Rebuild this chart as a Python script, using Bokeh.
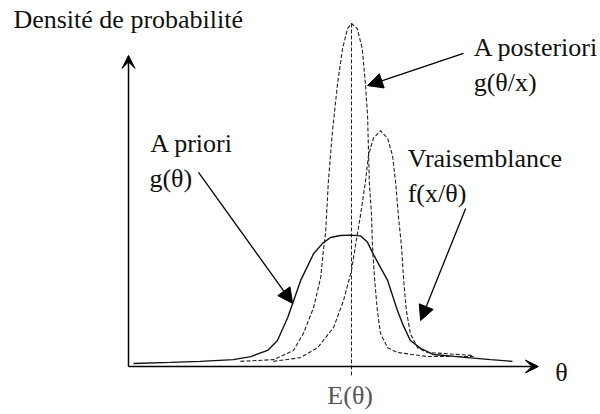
from bokeh.plotting import figure
from bokeh.models import Range1d, Arrow, NormalHead, VeeHead
from bokeh.core.properties import value
from bokeh.embed import file_html
from bokeh.resources import INLINE

# ---- data (theta units, density units) ----
prior_theta = [0.11, 0.94, 1.61, 2.35, 2.74, 3.12, 3.34, 3.57, 3.68, 3.86, 4.15, 4.35,
               4.53, 4.75, 4.98, 5.20, 5.36, 5.49, 5.81, 6.03, 6.17, 6.32, 6.55, 6.84,
               7.60, 8.12, 8.61]
prior_density = [0.09, 0.12, 0.15, 0.20, 0.29, 0.47, 0.76, 1.43, 1.84, 2.51, 3.29, 3.59,
                 3.76, 3.82, 3.83, 3.81, 3.62, 3.27, 2.51, 1.63, 1.17, 0.76, 0.53, 0.35,
                 0.26, 0.20, 0.15]

likelihood_theta = [3.25, 3.86, 4.24, 4.60, 4.82, 5.00, 5.09, 5.20, 5.31, 5.38, 5.49,
                    5.65, 5.81, 5.92, 5.99, 6.05, 6.12, 6.17, 6.23, 6.32, 6.48, 6.70, 7.74]
likelihood_density = [0.15, 0.26, 0.55, 1.14, 1.92, 2.80, 3.53, 4.40, 5.36, 6.15, 6.65,
                      6.88, 6.65, 6.15, 5.36, 4.40, 3.53, 2.51, 1.63, 0.96, 0.55, 0.41, 0.32]

posterior_theta = [2.51, 3.25, 3.70, 3.92, 4.15, 4.31, 4.37, 4.42, 4.48, 4.57, 4.69,
                   4.80, 4.91, 5.00, 5.13, 5.24, 5.31, 5.36, 5.38, 5.40, 5.45, 5.47,
                   5.52, 5.58, 5.65, 5.81, 6.03, 6.70, 7.74]
posterior_density = [0.15, 0.20, 0.47, 0.96, 1.72, 2.60, 3.38, 3.91, 5.36, 6.82, 8.28,
                     9.27, 9.85, 10.0, 9.85, 9.27, 8.28, 7.32, 6.36, 5.36, 4.40, 3.53,
                     2.51, 1.63, 0.96, 0.55, 0.41, 0.29, 0.29]

E_theta = 5.0
axis_labels = ["Densité de probabilité", "θ"]
label_prior = ["A priori", "g(θ)"]
label_likelihood = ["Vraisemblance", "f(x/θ)"]
label_posterior = ["A posteriori", "g(θ/x)"]
tick_label = "E(θ)"

FONT = value("'Liberation Serif', 'Times New Roman', serif")
FS = "26px"

p = figure(width=600, height=414, output_backend="svg", toolbar_location=None,
           x_range=Range1d(-2.870, 10.583), y_range=Range1d(-1.399, 10.671),
           x_axis_location=None, y_axis_location=None, min_border=0,
           outline_line_color=None, background_fill_color="white",
           border_fill_color="white")
p.grid.visible = False

# axes with arrow heads
p.add_layout(Arrow(end=VeeHead(size=13, fill_color="black", line_color="black"),
                   x_start=0, y_start=0, x_end=0, y_end=9.07,
                   line_width=1.5, line_color="black"))
p.add_layout(Arrow(end=VeeHead(size=13, fill_color="black", line_color="black"),
                   x_start=0, y_start=0, x_end=9.19, y_end=0,
                   line_width=1.5, line_color="black"))

# E(theta) dashed marker
p.segment(x0=[E_theta], y0=[-0.26], x1=[E_theta], y1=[max(posterior_density)],
          line_color="#222", line_width=1, line_dash="4 2")

# curves
p.line(prior_theta, prior_density, line_color="#111", line_width=1.4)
p.line(likelihood_theta, likelihood_density, line_color="#222", line_width=1.1, line_dash="4 2")
p.line(posterior_theta, posterior_density, line_color="#222", line_width=1.1, line_dash="4 2")

# annotation arrows
for xs, ys, xe, ye in [(7.51, 9.13, 5.36, 8.19),
                       (1.57, 5.66, 3.68, 1.84),
                       (7.56, 4.61, 6.55, 1.34)]:
    p.add_layout(Arrow(end=NormalHead(size=15, fill_color="black", line_color="black"),
                       x_start=xs, y_start=ys, x_end=xe, y_end=ye,
                       line_width=1.3, line_color="black"))

# texts
p.text(x=[-2.58, 0.49, 0.47, 6.26, 6.26, 7.74, 7.74, 9.57],
       y=[10.12, 6.50, 5.48, 6.06, 5.04, 9.30, 8.28, -0.18],
       text=[axis_labels[0], label_prior[0], label_prior[1],
             label_likelihood[0], label_likelihood[1],
             label_posterior[0], label_posterior[1], axis_labels[1]],
       text_font=FONT, text_font_size=FS, text_color="#111",
       text_align="left", text_baseline="alphabetic")
p.text(x=[E_theta - 0.03], y=[-0.85], text=[tick_label], text_font=FONT,
       text_font_size=FS, text_color="#555", text_align="center",
       text_baseline="alphabetic")

open("out.html", "w").write(file_html(p, INLINE))
